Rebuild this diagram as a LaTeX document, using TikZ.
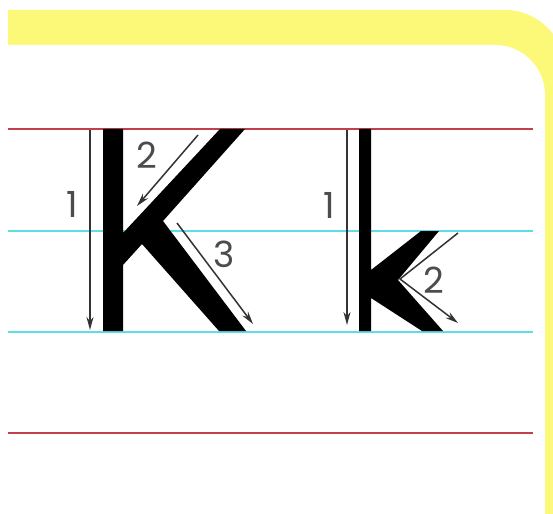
\documentclass[tikz,border=0pt]{standalone}
\usepackage{fontspec}
\newfontfamily\digitfont{Poppins}
\usetikzlibrary{arrows.meta}

\definecolor{bandYellow}{HTML}{FCF978}
\definecolor{ruleRed}{HTML}{C2404C}
\definecolor{ruleCyan}{HTML}{5EDDE4}
\definecolor{strokeGray}{HTML}{333333}

\begin{document}
\begin{tikzpicture}[
    x=1pt, y=-1pt,
    rule/.style={line width=2pt},
    stroke/.style={draw=strokeGray, line width=1.5pt, -{Stealth[length=13pt, width=7pt]}},
    num/.style={font=\digitfont\fontsize{36}{36}\selectfont, text=black!70, inner sep=0pt},
]
\useasboundingbox (0, 0) rectangle (553, 513);
\begin{scope}
\clip (8, 0) rectangle (553, 513);
% yellow frame
\fill[bandYellow, rounded corners=60pt] (-100, 10) rectangle (565, 650);
\fill[white, rounded corners=50pt] (-100, 45) rectangle (545, 650);
\end{scope}

% ruled lines
\draw[rule, ruleRed] (8, 129) -- (533, 129);
\draw[rule, ruleCyan] (8, 231) -- (533, 231);
\draw[rule, ruleCyan] (8, 332) -- (533, 332);
\draw[rule, ruleRed] (8, 433) -- (533, 433);

% capital K
\fill[black] (103, 129) -- (123, 129) -- (123, 233) -- (220, 129) -- (245, 129)
  -- (163, 221) -- (246, 331) -- (219, 331) -- (142, 244) -- (123, 265)
  -- (123, 331) -- (103, 331) -- cycle;

% small k
\fill[black] (359, 129) -- (371, 129) -- (371, 270) -- (421, 231) -- (439, 231)
  -- (398, 280) -- (443, 331) -- (422, 331) -- (371, 298) -- (371, 331)
  -- (359, 331) -- cycle;

% stroke order, K
\coordinate (Ka) at (90, 130);
\coordinate (Kb) at (90, 330);
\coordinate (Kc) at (198, 135);
\coordinate (Kd) at (137, 206);
\coordinate (Ke) at (177, 223);
\coordinate (Kf) at (253, 324);
\draw[stroke] (Ka) -- (Kb);
\draw[stroke] (Kc) -- (Kd);
\draw[stroke] (Ke) -- (Kf);
\node[num] (Kone) at (72, 204) {1};
\node[num] (Ktwo) at (147, 155) {2};
\node[num] (Kthree) at (224, 254) {3};

% stroke order, k
\coordinate (ka) at (347, 130);
\coordinate (kb) at (347, 325);
\coordinate (kc) at (458, 233);
\coordinate (kv) at (400, 279);
\coordinate (kd) at (458, 323);
\draw[stroke] (ka) -- (kb);
\draw[stroke] (kc) -- (kv) -- (kd);
\node[num] (kone) at (329, 205) {1};
\node[num] (ktwo) at (434, 280) {2};
\end{tikzpicture}
\end{document}
